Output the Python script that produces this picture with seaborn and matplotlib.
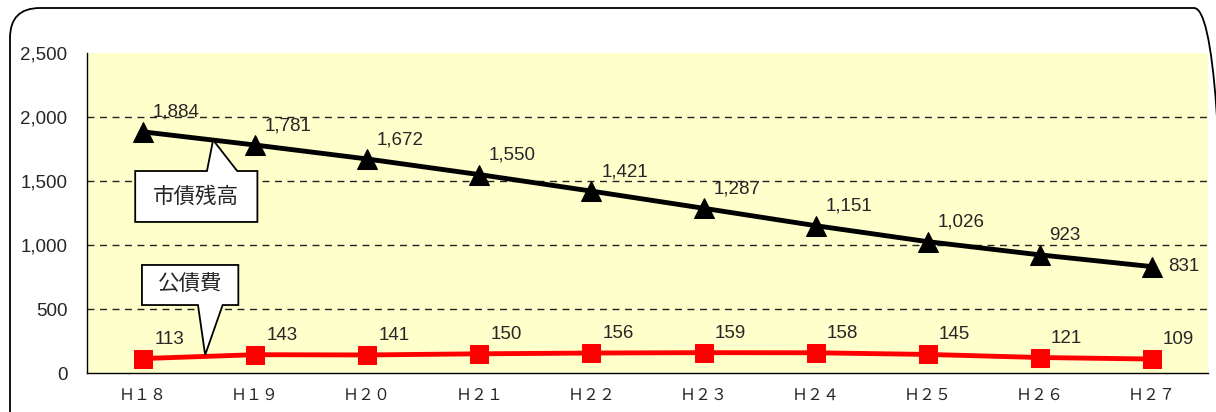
import numpy as np
import pandas as pd
import matplotlib
matplotlib.use('Agg')
import matplotlib.pyplot as plt
from matplotlib.patches import FancyBboxPatch, Polygon
import seaborn as sns

# data
years = ['Ｈ１８', 'Ｈ１９', 'Ｈ２０', 'Ｈ２１', 'Ｈ２２',
         'Ｈ２３', 'Ｈ２４', 'Ｈ２５', 'Ｈ２６', 'Ｈ２７']
debt_balance = [1884, 1781, 1672, 1550, 1421, 1287, 1151, 1026, 923, 831]  # 市債残高
debt_service = [113, 143, 141, 150, 156, 159, 158, 145, 121, 109]          # 公債費

sns.set_style('white')
plt.rcParams['font.family'] = ['Liberation Sans', 'Noto Sans CJK JP', 'DejaVu Sans']

df = pd.DataFrame({'pos': np.arange(len(years)),
                   'balance': debt_balance,
                   'service': debt_service})

fig = plt.figure(figsize=(12.16, 4.12), dpi=100)
ax = fig.add_axes([87 / 1216, 39 / 412, 1121 / 1216, 320 / 412])
ax.set_facecolor('#FFFFCC')

# rounded outer frame
frame = FancyBboxPatch((0.10, -0.3), 12.14, 4.34,
                       boxstyle='round,pad=0,rounding_size=0.3',
                       transform=fig.dpi_scale_trans, fc='none', ec='black',
                       lw=1.3, zorder=0)
fig.patches.append(frame)

sns.lineplot(data=df, x='pos', y='balance', ax=ax, color='black', lw=3.5,
             marker='^', markersize=14, markeredgecolor='black', zorder=4)
sns.lineplot(data=df, x='pos', y='service', ax=ax, color='#FF0000', lw=3.5,
             marker='s', markersize=12.5, markeredgecolor='#FF0000', zorder=4)

# value labels
for i, v in enumerate(debt_balance):
    off = (12, 0) if i == len(debt_balance) - 1 else (7, 14)
    ax.annotate(f'{v:,}', (i, v), xytext=off, textcoords='offset points',
                ha='left', va='center', fontsize=13.5, zorder=6)
for i, v in enumerate(debt_service):
    ax.annotate(f'{v:,}', (i, v), xytext=(8, 14), textcoords='offset points',
                ha='left', va='center', fontsize=13.5, zorder=6)


def callout(x0, x1, yb, yt, b1, b2, tip, text, up):
    if up:
        pts = [(x0, yb), (x1, yb), (x1, yt), (b2, yt), tip, (b1, yt), (x0, yt)]
    else:
        pts = [(x0, yt), (x1, yt), (x1, yb), (b2, yb), tip, (b1, yb), (x0, yb)]
    ax.add_patch(Polygon(pts, closed=True, fc='white', ec='black', lw=1.3,
                         zorder=7))
    ax.text((x0 + x1) / 2, (yb + yt) / 2, text, ha='center', va='center',
            fontsize=15.5, family=['Noto Sans CJK JP'], zorder=8)


callout(-0.07, 1.02, 1180, 1578, 0.57, 0.84, (0.625, 1820), '市債残高', True)
callout(-0.01, 0.85, 531, 844, 0.49, 0.71, (0.554, 141), '公債費', False)

ax.set_xlim(-0.5, len(years) - 0.5)
ax.set_ylim(0, 2500)
ax.set_yticks(np.arange(0, 2501, 500))
ax.yaxis.set_major_formatter(matplotlib.ticker.StrMethodFormatter('{x:,.0f}'))
ax.set_xticks(np.arange(len(years)))
ax.set_xticklabels(years, fontsize=11.5, family=['Noto Sans CJK JP'])
ax.set_xticks(np.arange(len(years)) + 0.5, minor=True)
ax.tick_params(axis='x', which='major', length=0, pad=10)
ax.tick_params(axis='x', which='minor', length=5, width=0.8, direction='out',
               colors='#555555')
ax.tick_params(axis='y', length=0, labelsize=13.5, pad=14)
ax.set_xlabel('')
ax.set_ylabel('')

for y in [500, 1000, 1500, 2000]:
    ax.axhline(y, color='#222222', lw=1.0, ls=(0, (5, 4)), zorder=1)

for s in ['top', 'right']:
    ax.spines[s].set_visible(False)
for s in ['left', 'bottom']:
    ax.spines[s].set_color('black')
    ax.spines[s].set_linewidth(1.0)

fig.savefig('out.png', dpi=100, facecolor='white')
